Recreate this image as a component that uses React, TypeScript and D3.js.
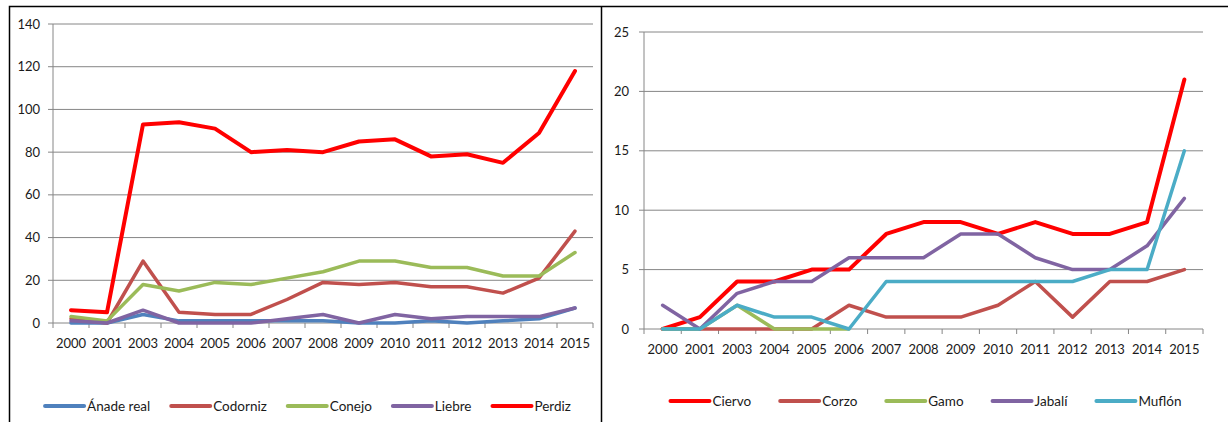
import * as d3 from 'd3';
import React from 'react';

// categories (2002 is missing in the source)
const years = ['2000', '2001', '2003', '2004', '2005', '2006', '2007', '2008', '2009', '2010', '2011', '2012', '2013', '2014', '2015'];

// left chart: small game
const anadeReal = [0, 0, 4, 1, 1, 1, 1, 1, 0, 0, 1, 0, 1, 2, 7];
const codorniz = [2, 0, 29, 5, 4, 4, 11, 19, 18, 19, 17, 17, 14, 21, 43];
const conejo = [3, 1, 18, 15, 19, 18, 21, 24, 29, 29, 26, 26, 22, 22, 33];
const liebre = [1, 0, 6, 0, 0, 0, 2, 4, 0, 4, 2, 3, 3, 3, 7];
const perdiz = [6, 5, 93, 94, 91, 80, 81, 80, 85, 86, 78, 79, 75, 89, 118];
const leftTicks = [0, 20, 40, 60, 80, 100, 120, 140];

// right chart: big game
const ciervo = [0, 1, 4, 4, 5, 5, 8, 9, 9, 8, 9, 8, 8, 9, 21];
const corzo = [0, 0, 0, 0, 0, 2, 1, 1, 1, 2, 4, 1, 4, 4, 5];
const gamo = [0, 0, 2, 0, 0, 0, null, null, null, null, null, null, null, null, null];
const jabali = [2, 0, 3, 4, 4, 6, 6, 6, 8, 8, 6, 5, 5, 7, 11];
const muflon = [0, 0, 2, 1, 1, 0, 4, 4, 4, 4, 4, 4, 5, 5, 15];
const rightTicks = [0, 5, 10, 15, 20, 25];

const FONT = 'Lato, "Open Sans", sans-serif';
const FS = 13;
const LEGEND_FS = 13.5;

type Series = { name: string; color: string; width: number; values: (number | null)[] };

const leftSeries: Series[] = [
  { name: 'Ánade real', color: '#4F81BD', width: 3.5, values: anadeReal },
  { name: 'Codorniz', color: '#C0504D', width: 3.5, values: codorniz },
  { name: 'Conejo', color: '#9BBB59', width: 3.5, values: conejo },
  { name: 'Liebre', color: '#8064A2', width: 3.5, values: liebre },
  { name: 'Perdiz', color: '#FF0000', width: 4, values: perdiz },
];

const rightSeries: Series[] = [
  { name: 'Ciervo', color: '#FF0000', width: 4, values: ciervo },
  { name: 'Corzo', color: '#C0504D', width: 3.5, values: corzo },
  { name: 'Gamo', color: '#9BBB59', width: 3.5, values: gamo },
  { name: 'Jabalí', color: '#8064A2', width: 3.5, values: jabali },
  { name: 'Muflón', color: '#4BACC6', width: 3.5, values: muflon },
];

let ctx: CanvasRenderingContext2D | null = null;
function textWidth(s: string) {
  if (!ctx) ctx = document.createElement('canvas').getContext('2d');
  if (!ctx) return s.length * 7;
  ctx.font = `${LEGEND_FS}px ${FONT}`;
  return ctx.measureText(s).width;
}

type ChartProps = {
  series: Series[];
  ticks: number[];
  x0: number; x1: number; yTop: number; yBot: number;
  labelGap: number; catY: number; legendY: number; legendCenter: number; gapItem: number;
};

function LineChart({ series, ticks, x0, x1, yTop, yBot, labelGap, catY, legendY, legendCenter, gapItem }: ChartProps) {
  const x = d3.scaleBand().domain(years).range([x0, x1]).padding(0);
  const y = d3.scaleLinear().domain([0, d3.max(ticks) as number]).range([yBot, yTop]);
  const line = d3.line<number | null>()
    .defined(d => d !== null)
    .x((_, i) => (x(years[i]) as number) + x.bandwidth() / 2)
    .y(d => y(d as number));

  // legend layout: line swatch + label, centred under the plot
  const swatch = 39, gapText = 3;
  const widths = series.map(s => swatch + gapText + textWidth(s.name));
  const total = d3.sum(widths) + gapItem * (series.length - 1);
  let cursor = legendCenter - total / 2;
  const legendX = widths.map(w => { const p = cursor; cursor += w + gapItem; return p; });

  const bounds = years.map(c => x(c) as number).concat([x1]);

  return <g fontFamily={FONT} fontSize={FS} fill="#1a1a1a">
    {ticks.map(t => <g key={t}>
      <line x1={x0 - 5} x2={x1} y1={y(t)} y2={y(t)} stroke="#868686" strokeWidth={1} />
      <text x={x0 - labelGap} y={y(t)} dy="0.35em" textAnchor="end">{t}</text>
    </g>)}
    <line x1={x0} x2={x0} y1={yTop} y2={yBot} stroke="#868686" strokeWidth={1} />
    {bounds.map((b, i) => <line key={i} x1={b} x2={b} y1={yBot} y2={yBot + 5} stroke="#868686" strokeWidth={1} />)}
    {years.map(c => <text key={c} x={(x(c) as number) + x.bandwidth() / 2} y={catY} dy="0.35em" textAnchor="middle">{c}</text>)}
    {series.map(s => <path key={s.name} d={line(s.values) || ''} fill="none" stroke={s.color}
      strokeWidth={s.width} strokeLinejoin="round" strokeLinecap="round" />)}
    {series.map((s, i) => <g key={s.name} transform={`translate(${legendX[i]},${legendY})`}>
      <line x1={0} x2={swatch} y1={0} y2={0} stroke={s.color} strokeWidth={4} strokeLinecap="round" />
      <text x={swatch + gapText} y={0} dy="0.35em" fontSize={LEGEND_FS}>{s.name}</text>
    </g>)}
  </g>;
}

export default function App() {
  return <div style={{ position: 'fixed', left: 0, top: 0 }}>
    <svg width={1228} height={422} style={{ display: 'block', background: '#fff' }}>
      <path d="M9.5,422 V6.5 H1228" fill="none" stroke="#000" strokeWidth={1.5} />
      <line x1={601.5} x2={601.5} y1={6.5} y2={422} stroke="#000" strokeWidth={1.5} />
      <LineChart series={leftSeries} ticks={leftTicks} x0={53} x1={593} yTop={24} yBot={323}
        labelGap={13} catY={343} legendY={406} legendCenter={308} gapItem={21} />
      <LineChart series={rightSeries} ticks={rightTicks} x0={644} x1={1203} yTop={32} yBot={329}
        labelGap={15} catY={349} legendY={401} legendCenter={926} gapItem={29} />
    </svg>
  </div>;
}
